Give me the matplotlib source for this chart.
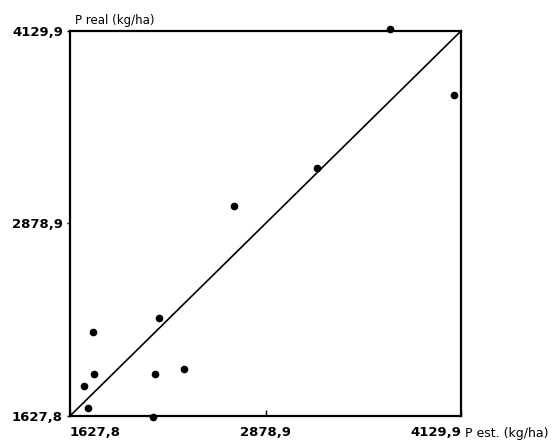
import matplotlib
matplotlib.use("Agg")
import matplotlib.pyplot as plt

# Data (kg/ha)
p_est = [1776.9, 2195.4, 1781.4, 1717.4, 1741.1, 2173.6, 2359.2, 2157.0,
         2679.1, 3673.6, 4083.1, 3206.4]
p_real = [2173.7, 2262.8, 1898.8, 1822.8, 1677.8, 1902.7, 1935.2, 1619.4,
          2994.5, 4141.0, 3715.9, 3241.5]
tick_vals = [1627.8, 2878.9, 4129.9]
tick_labels = ["1627,8", "2878,9", "4129,9"]

fig = plt.figure(figsize=(5.52, 4.41), dpi=100)
ax = fig.add_axes([70/552, 1-416/441, (461-70)/552, (416-31)/441])

lo, hi = tick_vals[0], tick_vals[-1]
ax.set_xlim(lo, hi)
ax.set_ylim(lo, hi)

ax.plot([lo, hi], [lo, hi], color="black", lw=1.2, clip_on=False)
ax.plot(p_est, p_real, "o", color="black", ms=4.5, clip_on=False)

for s in ax.spines.values():
    s.set_linewidth(1.6)

ax.set_xticks(tick_vals)
ax.set_xticklabels(tick_labels, fontsize=9.5, fontweight="bold")
ax.set_yticks(tick_vals)
ax.set_yticklabels(tick_labels, fontsize=9.5, fontweight="bold")
ax.tick_params(axis="x", direction="in", length=4, width=1, pad=7)
ax.tick_params(axis="y", direction="out", length=2, width=1, pad=3)

xl = ax.get_xticklabels()
xl[0].set_ha("left")
xl[-1].set_ha("right")

ax.text(0.013, 1.01, "P real (kg/ha)", transform=ax.transAxes, fontsize=8.5,
        ha="left", va="bottom")
ax.text(1.0, -0.029, " P est. (kg/ha)", transform=ax.transAxes, fontsize=9,
        ha="left", va="top")

fig.savefig("out.png", dpi=100)
